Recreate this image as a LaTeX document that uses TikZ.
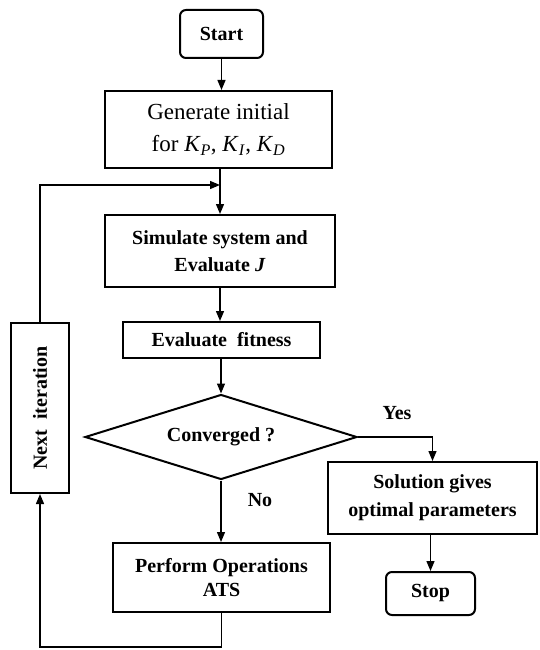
\documentclass[tikz,border=0pt]{standalone}
\usepackage{fontspec}
\setmainfont{Liberation Serif}
\usetikzlibrary{arrows.meta,shapes.geometric,calc}
\begin{document}
\begin{tikzpicture}[x=1pt,y=-1pt,
  box/.style={draw,line width=2pt,inner sep=0pt,align=center,font=\fontsize{20}{27}\selectfont\bfseries},
  rbox/.style={box,rounded corners=6pt},
  conn/.style={line width=1.3pt},
  arr/.style={conn,-{Triangle[length=10pt,width=8pt]}},
  lbl/.style={font=\fontsize{20}{22}\selectfont\bfseries,inner sep=0pt}]
\useasboundingbox (0,0) rectangle (540,650);
\node[rbox,minimum width=83pt,minimum height=48pt] (start) at (221.5,34) {Start};
\node[box,minimum width=227pt,minimum height=77pt,font=\fontsize{23}{32}\selectfont] (gen) at (218.5,129.5)
  {Generate initial\\for \textit{K}\textsubscript{\textit{P}}, \textit{K}\textsubscript{\textit{I}}, \textit{K}\textsubscript{\textit{D}}};
\node[box,minimum width=230pt,minimum height=72pt] (sim) at (220,251) {Simulate system and\\Evaluate \textit{J}};
\node[box,minimum width=197pt,minimum height=36pt] (fit) at (221.5,340) {Evaluate\ \ fitness};
\node[box,shape=diamond,aspect=3.2,minimum width=272pt,minimum height=85pt] (dec) at (221,437) {Converged ?};
\node[box,minimum width=217pt,minimum height=69pt,font=\fontsize{20}{24}\selectfont\bfseries] (perf) at (221.5,577.5) {Perform Operations\\ATS};
\node[box,minimum width=209pt,minimum height=72pt,font=\fontsize{20}{28}\selectfont\bfseries] (sol) at (432.5,498) {Solution gives\\optimal parameters};
\node[rbox,minimum width=89pt,minimum height=43pt] (stop) at (430.5,593.5) {Stop};
\node[box,minimum width=58pt,minimum height=170pt] (next) at (40,408) {};
\node[lbl,rotate=90] (nexttxt) at (next.center) {Next\ \ iteration};
\node[lbl] (yes) at (397,413) {Yes};
\node[lbl] (no) at (260,500) {No};
\coordinate (join) at (220,185);
\coordinate (bot) at (221.5,647);
\draw[arr] (start.south) -- (start.south |- gen.north);
\draw[arr] (sim.north |- gen.south) -- (sim.north);
\draw[arr] (next.north) |- (join);
\draw[arr] (sim.south) -- (sim.south |- fit.north);
\draw[arr] (fit.south -| dec.north) -- (dec.north);
\draw[arr] (dec.south) -- (dec.south |- perf.north);
\draw[arr] (dec.east) -| (sol.north);
\draw[arr] (sol.south -| stop.north) -- (stop.north);
\draw[arr] (perf.south) -- (bot) -| (next.south);
\end{tikzpicture}
\end{document}
